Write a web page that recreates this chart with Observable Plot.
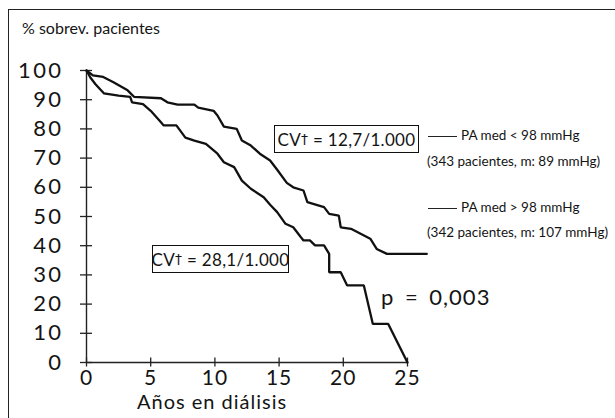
<!DOCTYPE html>
<html><head><meta charset="utf-8">
<script src="https://cdn.jsdelivr.net/npm/d3@7"></script>
<script src="https://cdn.jsdelivr.net/npm/@observablehq/plot@0.6"></script>
<style>
html,body{margin:0;padding:0;background:#fff;}
#wrap{position:relative;width:615px;height:418px;overflow:hidden;font-family:Lato,"Open Sans",sans-serif;color:#141414;}
#frame{position:absolute;left:8px;top:9px;width:700px;height:500px;border-left:1.4px solid #222;border-top:1.4px solid #222;}
#chart{position:absolute;left:0;top:0;}
#chart svg g[aria-label="y-axis tick label"]{letter-spacing:2.4px;}
#chart svg g[aria-label="x-axis tick label"]{letter-spacing:1px;}
.ann{position:absolute;white-space:nowrap;line-height:1;}
.box{position:absolute;border:1.4px solid #111;box-sizing:border-box;display:flex;align-items:center;justify-content:center;font-size:17px;white-space:nowrap;letter-spacing:0.3px;}
.dag{font-family:"DejaVu Sans",sans-serif;font-size:14px;}
.dash{position:absolute;height:0;border-top:1.2px solid #222;}
.leg{font-size:13.5px;}
</style>
</head><body>
<div id="wrap">
  <div id="frame"></div>
  <div id="chart"></div>
  <div class="ann" style="left:22px;top:20px;font-size:16px;">% sobrev. pacientes</div>
  <div class="box" style="left:274px;top:125px;width:145px;height:28px;">CV<span class="dag">†</span>&nbsp;= 12,7/1.000</div>
  <div class="box" style="left:152px;top:245px;width:137px;height:28px;">CV<span class="dag">†</span>&nbsp;= 28,1/1.000</div>
  <div class="dash" style="left:428px;top:136px;width:29px;"></div>
  <div class="ann leg" style="left:461px;top:129px;">PA med &lt; 98 mmHg</div>
  <div class="ann leg" style="left:427px;top:155px;">(343 pacientes, m: 89 mmHg)</div>
  <div class="dash" style="left:428px;top:208px;width:29px;"></div>
  <div class="ann leg" style="left:461px;top:201px;">PA med &gt; 98 mmHg</div>
  <div class="ann leg" style="left:427px;top:226px;">(342 pacientes, m: 107 mmHg)</div>
  <div class="ann" style="left:381px;top:286px;font-size:22px;letter-spacing:1px;word-spacing:4px;">p = 0,003</div>
  <div class="ann" style="left:137px;top:391px;font-size:20px;letter-spacing:1px;">Años en diálisis</div>
</div>
<script>
// Kaplan-Meier survival, PA med < 98 mmHg (343 pacientes)
const yearsLow = [0,0.5,1.3,2.1,3.2,3.7,5.8,6.3,7.1,8.4,8.7,9.9,10.2,10.7,11.7,12.1,12.8,13.5,14.3,14.85,15.6,16.1,16.9,17.2,18.5,18.9,19.65,19.8,20.6,22.1,22.6,23.4,26.5];
const survLow  = [100,98.3,97.8,96,93.2,91,90.5,89.1,88.3,88.3,87.3,86.2,84.6,80.8,80,76,74.3,71.5,69.2,66,61.5,60,58.9,54.9,53.2,50.9,50.3,46.3,45.8,42.4,38.9,37.2,37.2];
// Kaplan-Meier survival, PA med > 98 mmHg (342 pacientes)
const yearsHigh = [0,0.3,0.7,1.35,2.5,3.4,3.55,4.4,5.0,5.8,6.0,7.0,7.7,8.4,9.3,10.2,10.7,11.5,11.8,12.1,12.8,13.8,14.3,14.85,15.5,16.1,16.7,16.9,17.4,17.8,18.5,18.9,18.9,19.8,20.3,21.6,22.3,23.5,25];
const survHigh  = [100,97.6,95.3,92.2,91.4,91,89.1,88.5,86.2,82.3,81.2,81.2,77,76,74.9,71.5,68.6,66.9,64.6,62.3,59.5,56.6,54,51.5,47.5,46.3,42.9,41.8,41.8,40.1,40.1,37.2,30.9,30.9,26.4,26.4,13.2,13.2,0];
const yTicks = [0,10,20,30,40,50,60,70,80,90,100];
const xTicks = [0,5,10,15,20,25];
const groups = ["PA med < 98 mmHg","PA med > 98 mmHg"];

const rows = [
  ...yearsLow.map((t,i)=>({t, s: survLow[i], g: groups[0]})),
  ...yearsHigh.map((t,i)=>({t, s: survHigh[i], g: groups[1]}))
];

const chart = Plot.plot({
  width: 615, height: 418,
  marginLeft: 86, marginRight: 208, marginTop: 70, marginBottom: 56,
  x: {domain: [0, 25], label: null},
  y: {domain: [0, 100], label: null},
  style: {fontFamily: "Lato, 'Open Sans', sans-serif", color: "#141414", background: "transparent", overflow: "visible"},
  marks: [
    Plot.ruleX([0], {stroke: "#222", strokeWidth: 1.4}),
    Plot.ruleY([0], {stroke: "#222", strokeWidth: 1.4}),
    // crossing ticks (no labels)
    Plot.axisY({ticks: yTicks, tickSize: 12, dx: 6, tickFormat: () => "", label: null, stroke: "#222", strokeWidth: 1.3}),
    Plot.axisX({ticks: xTicks, tickSize: 9, dy: -4.5, tickFormat: () => "", label: null, stroke: "#222", strokeWidth: 1.3}),
    // labels
    Plot.axisY({ticks: yTicks, tickSize: 0, tickPadding: 23, fontSize: 22, label: null, fill: "#141414"}),
    Plot.axisX({ticks: xTicks, tickSize: 0, tickPadding: 8, fontSize: 21, label: null, fill: "#141414"}),
    Plot.line(rows, {x: "t", y: "s", z: "g", stroke: "#111", strokeWidth: 2.3, strokeLinejoin: "miter"})
  ]
});
document.getElementById("chart").appendChild(chart);
</script>
</body></html>
